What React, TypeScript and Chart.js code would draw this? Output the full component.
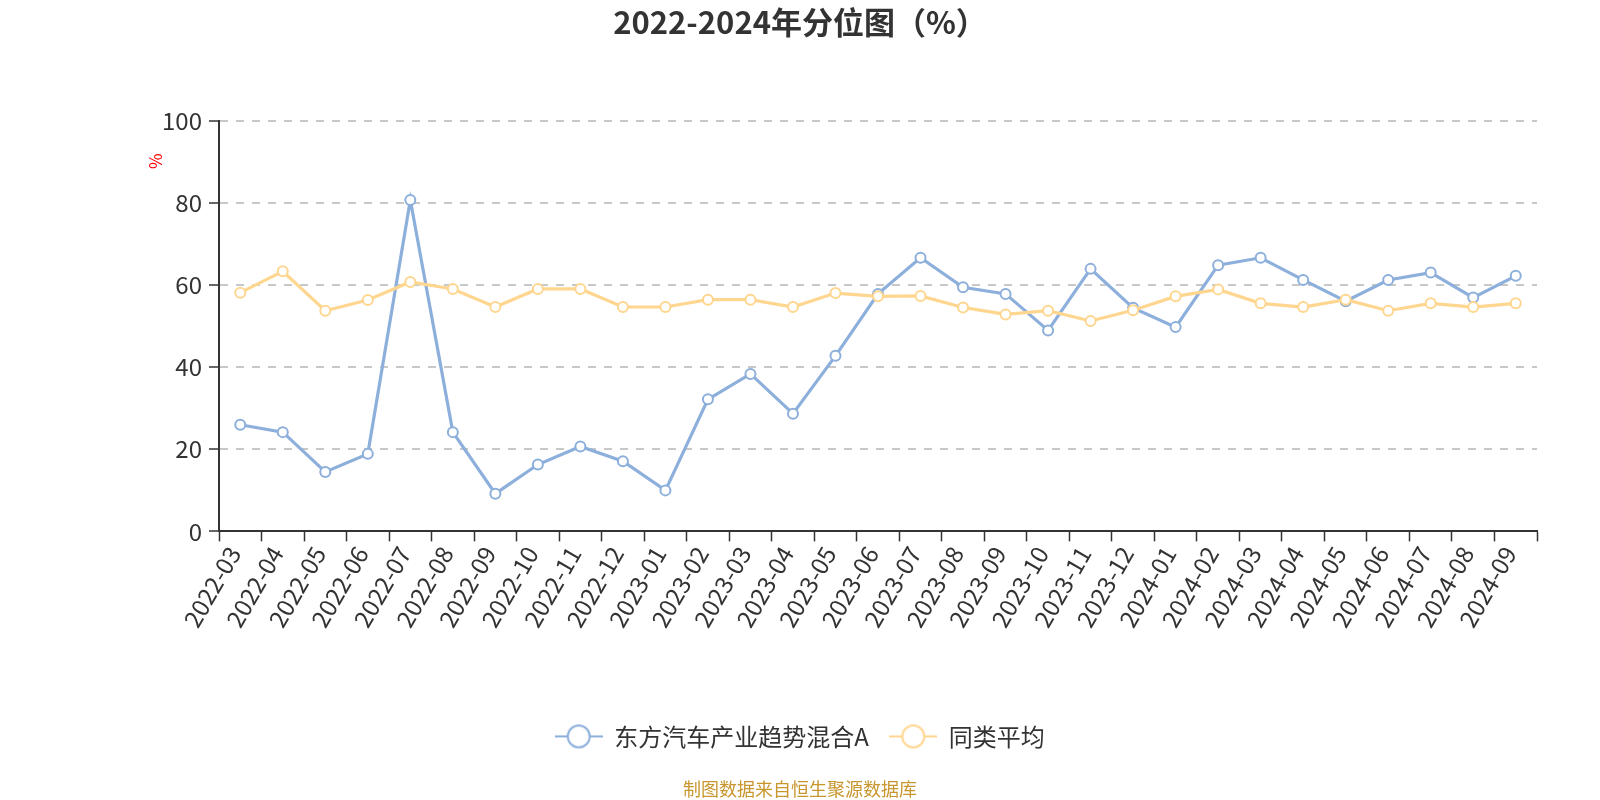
import React, { useEffect, useRef } from 'react';
import { Chart, registerables } from 'chart.js';

Chart.register(...registerables);

const categories = [
  '2022-03', '2022-04', '2022-05', '2022-06', '2022-07', '2022-08', '2022-09', '2022-10',
  '2022-11', '2022-12', '2023-01', '2023-02', '2023-03', '2023-04', '2023-05', '2023-06',
  '2023-07', '2023-08', '2023-09', '2023-10', '2023-11', '2023-12', '2024-01', '2024-02',
  '2024-03', '2024-04', '2024-05', '2024-06', '2024-07', '2024-08', '2024-09',
];

const fundValues = [
  26.0, 24.2, 14.5, 18.9, 80.8, 24.2, 9.2, 16.3, 20.7, 17.1, 10.0, 32.2, 38.4, 28.7, 42.8, 57.9,
  66.7, 59.5, 57.9, 49.0, 64.0, 54.5, 49.8, 64.9, 66.7, 61.3, 56.1, 61.3, 63.1, 57.0, 62.3,
];

const peerAverage = [
  58.2, 63.4, 53.8, 56.4, 60.8, 59.1, 54.7, 59.1, 59.1, 54.7, 54.7, 56.5, 56.5, 54.7, 58.1, 57.3,
  57.4, 54.6, 52.9, 53.8, 51.3, 53.9, 57.3, 59.0, 55.6, 54.7, 56.5, 53.8, 55.6, 54.7, 55.6,
];

const seriesNames = ['东方汽车产业趋势混合A', '同类平均'];
const seriesColors = ['#8DAFDB', '#FFD68F'];
const titleText = '2022-2024年分位图（%）';
const footerText = '制图数据来自恒生聚源数据库';
const yUnit = '%';
const yMin = 0;
const yMax = 100;
const yStep = 20;

const FONT = "'Noto Sans CJK SC', 'Noto Sans', sans-serif";

function makeLegendIcon(color: string): HTMLCanvasElement {
  const c = document.createElement('canvas');
  c.width = 48;
  c.height = 26;
  const g = c.getContext('2d')!;
  g.strokeStyle = color;
  g.lineWidth = 2;
  g.beginPath();
  g.moveTo(0, 13);
  g.lineTo(48, 13);
  g.stroke();
  g.beginPath();
  g.arc(24, 13, 11, 0, Math.PI * 2);
  g.fillStyle = '#ffffff';
  g.fill();
  g.stroke();
  return c;
}

const percentLabel = {
  id: 'percentLabel',
  afterDraw(chart: any) {
    const { ctx, chartArea } = chart;
    ctx.save();
    ctx.translate(chartArea.left - 63, chartArea.top + 40);
    ctx.rotate(-Math.PI / 2);
    ctx.fillStyle = '#ff0000';
    ctx.font = `17px ${FONT}`;
    ctx.textAlign = 'center';
    ctx.textBaseline = 'middle';
    ctx.fillText(yUnit, 0, 0);
    ctx.restore();
  },
};

export default function App() {
  const canvasRef = useRef<HTMLCanvasElement | null>(null);

  useEffect(() => {
    document.body.style.margin = '0';
    const canvas = canvasRef.current;
    if (!canvas) return;
    Chart.defaults.font.family = FONT;
    const icons = seriesColors.map(makeLegendIcon);

    const chart = new Chart(canvas, {
      type: 'line',
      data: {
        labels: categories,
        datasets: [
          {
            label: seriesNames[0],
            data: fundValues,
            borderColor: seriesColors[0],
            backgroundColor: '#ffffff',
            borderWidth: 3.2,
            pointRadius: 5,
            pointBorderWidth: 2,
            pointBackgroundColor: '#ffffff',
            pointBorderColor: seriesColors[0],
            tension: 0,
            order: 1,
          },
          {
            label: seriesNames[1],
            data: peerAverage,
            borderColor: seriesColors[1],
            backgroundColor: '#ffffff',
            borderWidth: 3.2,
            pointRadius: 5,
            pointBorderWidth: 2,
            pointBackgroundColor: '#ffffff',
            pointBorderColor: seriesColors[1],
            tension: 0,
            order: 0,
          },
        ],
      },
      options: {
        animation: false,
        responsive: false,
        maintainAspectRatio: false,
        events: [],
        layout: { padding: { top: 0, right: 63, bottom: 0, left: 63 } },
        plugins: {
          title: {
            display: true,
            text: titleText,
            color: '#333333',
            font: { size: 31, weight: 'bold', family: FONT },
            padding: { top: 4, bottom: 80 },
          },
          subtitle: {
            display: true,
            position: 'bottom',
            text: footerText,
            color: '#C8962E',
            font: { size: 18, family: FONT },
            padding: { top: 20, bottom: 0 },
          },
          legend: {
            display: true,
            position: 'bottom',
            labels: {
              usePointStyle: true,
              pointStyleWidth: 47,
              boxHeight: 24,
              color: '#333333',
              font: { size: 24, family: FONT },
              padding: 21,
              generateLabels: (ch: any) => {
                const items = Chart.defaults.plugins.legend.labels.generateLabels(ch);
                items.sort((a: any, b: any) => a.datasetIndex - b.datasetIndex);
                return items.map((it: any) => ({ ...it, pointStyle: icons[it.datasetIndex] }));
              },
            },
          },
          tooltip: { enabled: false },
        },
        scales: {
          x: {
            type: 'category',
            offset: true,
            grid: {
              offset: true,
              drawOnChartArea: false,
              drawTicks: true,
              tickLength: 10,
              tickColor: '#333333',
              tickWidth: 1.5,
              color: '#333333',
            },
            border: { display: true, color: '#333333', width: 2 },
            ticks: {
              autoSkip: false,
              minRotation: 60,
              maxRotation: 60,
              color: '#333333',
              font: { size: 24, family: FONT },
              padding: 0,
              labelOffset: -6,
            },
            afterFit: (scale: any) => {
              scale.height = 172;
            },
          },
          y: {
            min: yMin,
            max: yMax,
            grid: {
              drawOnChartArea: true,
              drawTicks: true,
              tickLength: 10,
              tickColor: '#333333',
              tickWidth: 1.5,
              tickBorderDash: [],
              lineWidth: 2,
              color: (ctx: any) => (ctx.tick && ctx.tick.value === 0 ? 'rgba(0,0,0,0)' : '#C8C8C8'),
            },
            border: { display: true, color: '#333333', width: 2, dash: [8, 8] },
            ticks: {
              stepSize: yStep,
              color: '#333333',
              font: { size: 24, family: FONT },
              padding: 7,
            },
            afterFit: (scale: any) => {
              scale.width = 156;
            },
          },
        },
      },
      plugins: [percentLabel],
    } as any);

    return () => {
      chart.destroy();
    };
  }, []);

  return (
    <div style={{ width: 1600, height: 800, background: '#ffffff' }}>
      <canvas ref={canvasRef} width={1600} height={800} style={{ display: 'block' }} />
    </div>
  );
}
